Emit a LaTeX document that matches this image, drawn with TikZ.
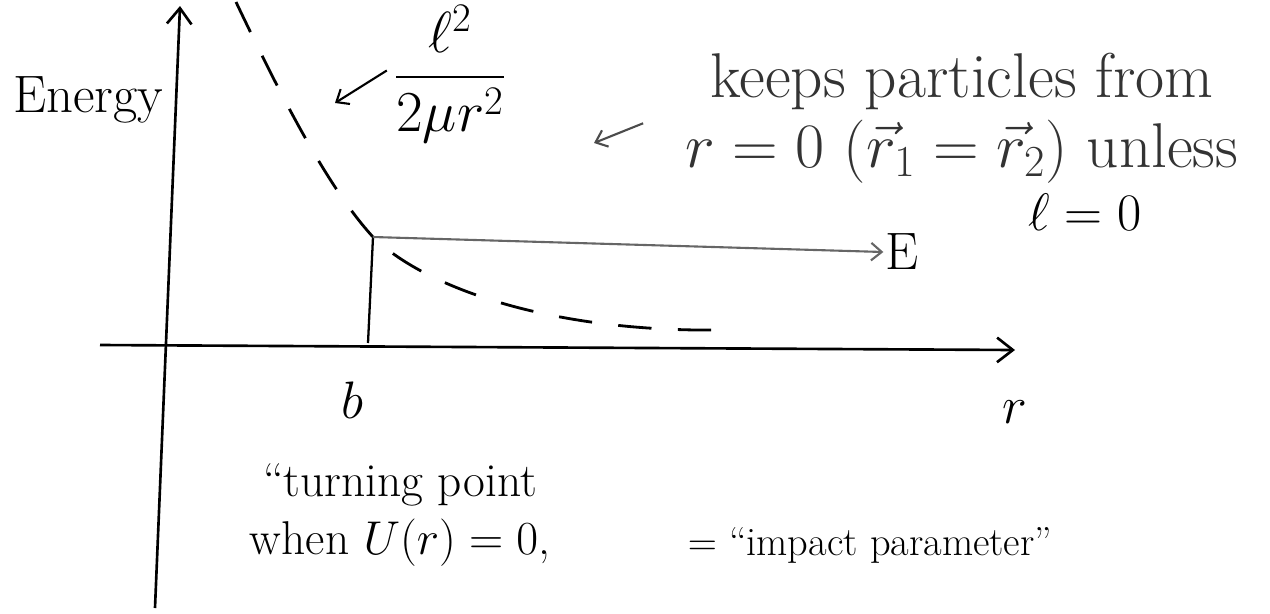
\RequirePackage{fix-cm}
\documentclass[tikz,border=0pt]{standalone}
\usepackage{amsmath, amssymb}
\usetikzlibrary{arrows.meta, positioning}

\begin{document}
\begin{tikzpicture}[
  x=0.02cm, y=-0.02cm,
  axis/.style={-{Straight Barb[length=9pt, width=14pt]}, line width=1.5pt},
  pen/.style={-{Straight Barb[length=6pt, width=10pt]}, line width=1.2pt},
  lbl/.style={inner sep=1pt, font=\fontsize{30}{37}\selectfont, align=center},
  dcurve/.style={line width=1.6pt, dash pattern=on 19pt off 15pt}
]
  \useasboundingbox (0,0) rectangle (1270,613);
  % axes
  \coordinate (ybot) at (155,608);
  \coordinate (ytop) at (180,6);
  \coordinate (xleft) at (100,345);
  \coordinate (xright) at (1015,350);
  \draw[axis] (ybot) -- (ytop);
  \draw[axis] (xleft) -- (xright);
  \node[lbl] (energy) at (88,100) {Energy};
  \node[lbl] (rlab) at (1015,412) {$r$};
  % turning point b
  \coordinate (tp) at (373,237);
  \coordinate (bfoot) at (368,343);
  \draw[line width=1.3pt] (bfoot) -- (tp);
  \node[lbl] (blab) at (352,400) {$b$};
  % l^2 / 2 mu r^2 curve
  \coordinate (ctop) at (236,2);
  \coordinate (cend) at (720,330);
  \draw[dcurve] (ctop) .. controls (285,105) and (330,190) .. (tp)
      .. controls (430,292) and (560,332) .. (cend);
  \node[lbl, font=\fontsize{33}{40}\selectfont] (frac) at (450,74)
    {$\dfrac{\ell^2}{2\mu r^2}$};
  \coordinate (fracpt) at (335,103);
  \draw[pen] ([xshift=-3pt, yshift=2pt]frac.west) -- (fracpt);
  % energy level
  \node[lbl] (Elab) at (902,252) {E};
  \draw[pen, black!60] (tp) -- (Elab.west);
  % notes
  \node[lbl, black!80, font=\fontsize{36}{40}\selectfont] (keeps) at (962,118)
    {keeps particles from\\ $r=0$ $(\vec r_1=\vec r_2)$ unless};
  \node[lbl] (lzero) at (1085,212) {$\ell=0$};
  \coordinate (keepspt) at (594,143);
  \draw[pen, black!70] ([xshift=-23pt, yshift=-3pt]keeps.west) -- (keepspt);
  \node[lbl, font=\fontsize{27}{33}\selectfont] (turn) at (400,515)
    {``turning point\\ when $U(r)=0$,};
  \node[lbl, font=\fontsize{23}{29}\selectfont] (impact) at (870,545)
    {$=$ ``impact parameter''};
\end{tikzpicture}
\end{document}
